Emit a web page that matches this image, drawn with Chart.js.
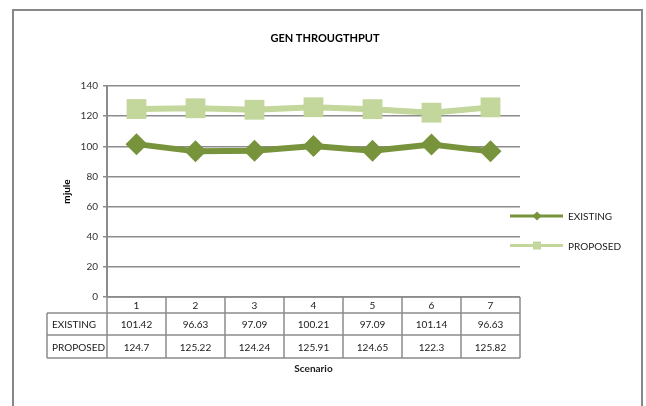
<!DOCTYPE html>
<html lang="en">
<head>
<meta charset="UTF-8">
<title>Gen Throughput</title>
<script src="https://cdn.jsdelivr.net/npm/chart.js"></script>
<style>
    body { margin: 0; background: #fff; }
    canvas { display: block; }
</style>
</head>
<body>
<canvas id="genChart" width="646" height="406"></canvas>
<script>
    // values per scenario (mjule)
    const scenarios = ['1', '2', '3', '4', '5', '6', '7'];
    const existing = [101.42, 96.63, 97.09, 100.21, 97.09, 101.14, 96.63];
    const proposed = [124.7, 125.22, 124.24, 125.91, 124.65, 122.3, 125.82];
    const seriesNames = ['EXISTING', 'PROPOSED'];

    const FONT = 'Lato, "Open Sans", sans-serif';
    const GRID = '#8c8c8c';

    // draws the outer frame, title, legend and the data table under the plot
    const tablePlugin = {
        id: 'dataTable',
        afterDraw(chart) {
            const ctx = chart.ctx;
            const area = chart.chartArea;
            const cols = scenarios.length;
            const colW = (area.right - area.left) / cols;
            const labelLeft = 47;
            const rows = [area.bottom, area.bottom + 16, area.bottom + 38, area.bottom + 61];

            ctx.save();
            ctx.strokeStyle = GRID;
            ctx.lineWidth = 1.5;
            ctx.beginPath();
            ctx.moveTo(area.left, rows[0]);
            ctx.lineTo(area.right, rows[0]);
            for (let r = 1; r < rows.length; r++) {
                ctx.moveTo(labelLeft, rows[r]);
                ctx.lineTo(area.right, rows[r]);
            }
            ctx.moveTo(labelLeft, rows[1]);
            ctx.lineTo(labelLeft, rows[3]);
            for (let c = 0; c <= cols; c++) {
                const x = area.left + c * colW;
                ctx.moveTo(x, rows[0]);
                ctx.lineTo(x, rows[3]);
            }
            ctx.stroke();

            ctx.fillStyle = '#1a1a1a';
            ctx.font = '10px ' + FONT;
            ctx.textBaseline = 'middle';
            ctx.textAlign = 'center';
            const xs = chart.scales.x;
            scenarios.forEach((s, i) => {
                const x = xs.getPixelForValue(i);
                ctx.fillText(s, x, (rows[0] + rows[1]) / 2 + 1);
                ctx.fillText(String(existing[i]), x, (rows[1] + rows[2]) / 2 + 1);
                ctx.fillText(String(proposed[i]), x, (rows[2] + rows[3]) / 2 + 1);
            });
            ctx.textAlign = 'left';
            ctx.fillText(seriesNames[0], labelLeft + 5, (rows[1] + rows[2]) / 2 + 1);
            ctx.fillText(seriesNames[1], labelLeft + 5, (rows[2] + rows[3]) / 2 + 1);

            // x axis title
            ctx.font = 'bold 10px ' + FONT;
            ctx.textAlign = 'center';
            ctx.fillText('Scenario', (area.left + area.right) / 2, rows[3] + 11);

            // chart title, centred on the whole frame
            ctx.font = 'bold 11px ' + FONT;
            ctx.fillStyle = '#000';
            ctx.fillText('GEN THROUGTHPUT', 325, 38);

            // legend
            chart.data.datasets.forEach((ds, i) => {
                const y = 216 + i * 29.5;
                ctx.strokeStyle = ds.borderColor;
                ctx.lineWidth = 3;
                ctx.beginPath();
                ctx.moveTo(510, y);
                ctx.lineTo(563, y);
                ctx.stroke();
                ctx.fillStyle = ds.borderColor;
                ctx.beginPath();
                if (ds.pointStyle === 'rectRot') {
                    ctx.moveTo(537 - 4.5, y);
                    ctx.lineTo(537, y - 4.5);
                    ctx.lineTo(537 + 4.5, y);
                    ctx.lineTo(537, y + 4.5);
                    ctx.closePath();
                } else {
                    ctx.rect(533, y - 4, 8, 8);
                }
                ctx.fill();
                ctx.fillStyle = '#1a1a1a';
                ctx.font = '10px ' + FONT;
                ctx.textAlign = 'left';
                ctx.fillText(ds.label, 568, y + 1);
            });

            // chart frame
            ctx.strokeStyle = '#878787';
            ctx.lineWidth = 2;
            ctx.strokeRect(13, 10, 629, 410);
            ctx.restore();
        }
    };

    const ctx = document.getElementById('genChart').getContext('2d');
    new Chart(ctx, {
        type: 'line',
        data: {
            labels: scenarios,
            datasets: [{
                label: seriesNames[0],
                data: existing,
                borderColor: '#77933c',
                backgroundColor: '#77933c',
                borderWidth: 6,
                pointStyle: 'rectRot',
                pointRadius: 11,
                pointHoverRadius: 11,
                pointBorderWidth: 0
            }, {
                label: seriesNames[1],
                data: proposed,
                borderColor: '#c3d69b',
                backgroundColor: '#c3d69b',
                borderWidth: 6,
                pointStyle: 'rect',
                pointRadius: 14,
                pointHoverRadius: 14,
                pointBorderWidth: 0
            }]
        },
        options: {
            responsive: false,
            animation: false,
            layout: { padding: { left: 0, top: 86, right: 126, bottom: 109 } },
            plugins: {
                legend: { display: false },
                tooltip: { enabled: false },
                title: { display: false }
            },
            scales: {
                x: {
                    display: false,
                    offset: true
                },
                y: {
                    min: 0,
                    max: 140,
                    ticks: {
                        stepSize: 20,
                        color: '#333',
                        padding: 5,
                        font: { family: FONT, size: 10 }
                    },
                    grid: {
                        color: GRID,
                        lineWidth: 1.5,
                        tickLength: 4
                    },
                    border: { color: GRID, width: 2 },
                    title: {
                        display: true,
                        text: 'mjule',
                        color: '#000',
                        font: { family: FONT, size: 10, weight: 'bold' },
                        padding: { top: 61, bottom: 0 }
                    },
                    afterFit(scale) { scale.width = 107; }
                }
            }
        },
        plugins: [tablePlugin]
    });
</script>
</body>
</html>
